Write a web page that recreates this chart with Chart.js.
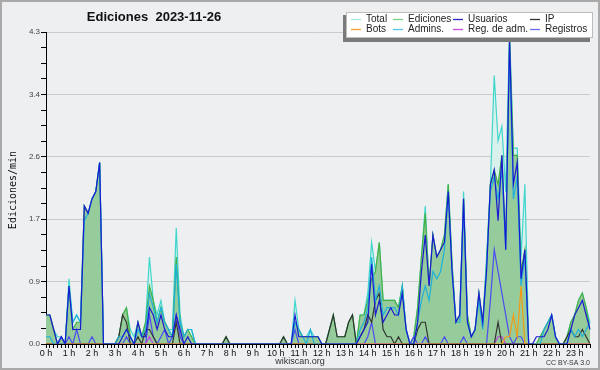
<!DOCTYPE html>
<html>
<head>
<meta charset="utf-8">
<script src="https://cdn.jsdelivr.net/npm/chart.js@4.4.0/dist/chart.umd.min.js"></script>
<style>
  html, body { margin: 0; padding: 0; background: #eeeff1; }
  canvas { display: block; }
</style>
</head>
<body>
<canvas id="chart" width="600" height="370"></canvas>
<script>
// hour labels on the x axis (one every 6 points, 10 min per point)
const hours = ['0 h','1 h','2 h','3 h','4 h','5 h','6 h','7 h','8 h','9 h','10 h','11 h',
  '12 h','13 h','14 h','15 h','16 h','17 h','18 h','19 h','20 h','21 h','22 h','23 h'];
const yTickLabels = ['0.0','0.9','1.7','2.6','3.4','4.3'];
const yMax = 4.3;

// edits per minute, 10 minute steps, 00:00 .. 23:40
const total = [
  0.4,0.4,0.2,0.1,0.1,0,   0.9,0.3,0.4,0.3,1.9,1.8,   2.0,2.1,2.5,0,0,0,
  0,0.1,0.4,0.5,0.2,0.1,   0.3,0.1,0.3,1.2,0.6,0.4,   0.6,0.3,0.2,0.2,1.6,0.4,
  0.1,0.2,0.2,0,0,0,       0,0,0,0,0,0.1,             0,0,0,0,0,0,
  0,0,0,0,0,0,             0,0,0.1,0,0,0.6,           0.2,0.1,0.1,0.2,0.1,0.1,
  0,0,0.2,0.4,0.1,0.1,     0.1,0.3,0.4,0,0.4,0.4,     0.7,1.4,1.0,1.4,0.6,0.6,
  0.6,0.6,0.5,0.8,0.2,0,   0.1,0.5,1.2,1.9,0.8,1.5,   1.2,1.3,1.5,2.2,1.1,0.3,
  0.4,2.1,0.4,0.1,0.2,0.7, 0.3,1.2,2.2,3.7,2.8,3.0,   2.1,4.3,2.7,2.7,1.2,2.2,
  0,0,0,0.1,0.2,0.3,       0.4,0.1,0,0,0.1,0.3,       0.4,0.6,0.7,0.5,0.3
];
const edits = [
  0.4,0.4,0.2,0,0.1,0,     0.8,0.2,0.3,0.3,1.9,1.8,   2.0,2.1,2.5,0,0,0,
  0,0.1,0.4,0.5,0.1,0,     0.3,0.1,0.3,0.8,0.6,0.3,   0.5,0.3,0.2,0.1,1.2,0.3,
  0.1,0.2,0.1,0,0,0,       0,0,0,0,0,0.1,             0,0,0,0,0,0,
  0,0,0,0,0,0,             0,0,0.1,0,0,0.3,           0.2,0.1,0.1,0.1,0.1,0.1,
  0,0,0.2,0.4,0.1,0.1,     0.1,0.3,0.4,0,0.4,0.4,     0.6,0.9,1.0,1.4,0.6,0.6,
  0.6,0.6,0.5,0.8,0.2,0,   0.1,0.5,1.2,1.8,0.8,1.5,   1.2,1.3,1.5,2.2,1.1,0.3,
  0.4,2.0,0.4,0.1,0.2,0.7, 0.3,1.1,2.2,2.4,2.2,2.6,   1.4,4.2,2.6,2.6,1.0,1.3,
  0,0,0,0.1,0.2,0.3,       0.4,0.1,0,0,0.1,0.3,       0.4,0.6,0.7,0.5,0.2
];
const users = [
  0.4,0.4,0.2,0,0.1,0,     0.8,0.2,0.2,0.2,1.9,1.8,   2.0,2.1,2.5,0,0,0,
  0,0,0.1,0.2,0.1,0,       0.3,0.1,0.1,0.5,0.4,0.2,   0.4,0.2,0.1,0.1,0.4,0.2,
  0,0.1,0,0,0,0,           0,0,0,0,0,0,               0,0,0,0,0,0,
  0,0,0,0,0,0,             0,0,0,0,0,0.4,             0.1,0.1,0.1,0.1,0.1,0.1,
  0,0,0,0,0,0,             0,0,0,0,0.1,0.2,           0.3,1.1,0.4,0.6,0.3,0.4,
  0.5,0.4,0.4,0.7,0.2,0,   0,0.3,1.0,1.5,0.8,1.5,     1.2,1.3,1.4,2.1,1.0,0.3,
  0.4,2.0,0.3,0.1,0.2,0.7, 0.3,1.0,2.2,2.4,1.7,2.6,   1.3,4.2,2.2,2.5,0.9,1.3,
  0,0,0.1,0.1,0.1,0.2,     0.4,0.1,0,0,0,0.2,         0.4,0.5,0.6,0.4,0.2
];
const ip = [
  0,0,0,0,0,0,             0,0,0,0,0,0,               0,0,0,0,0,0,
  0,0.1,0.4,0.3,0,0,       0.1,0,0.2,0.2,0.1,0,       0,0,0,0,0.3,0,
  0,0,0,0,0,0,             0,0,0,0,0,0.1,             0,0,0,0,0,0,
  0,0,0,0,0,0,             0,0,0.1,0,0,0,             0,0,0,0,0,0,
  0,0,0.2,0.4,0.1,0.1,     0.1,0.3,0.4,0,0.1,0.2,     0.4,0.3,0.6,0.7,0.2,0.1,
  0.1,0,0.1,0,0,0,         0,0.2,0.3,0.3,0,0,         0,0,0,0,0,0,
  0,0,0,0,0,0,             0,0,0,0,0.3,0,             0,0,0,0,0,0,
  0,0,0,0,0,0,             0,0,0,0,0.1,0.2,           0.1,0.1,0.2,0.1,0
];
const bots = [
  0,0,0,0,0,0, 0,0,0,0,0,0, 0,0,0,0,0,0, 0,0,0,0,0,0, 0,0,0,0,0,0, 0,0,0,0,0,0,
  0,0,0,0,0,0, 0,0,0,0,0,0, 0,0,0,0,0,0, 0,0,0,0,0,0, 0,0,0,0,0,0, 0,0,0,0,0,0,
  0,0,0,0,0,0, 0,0,0,0,0,0, 0,0,0,0,0,0, 0,0,0,0,0,0, 0,0,0,0,0,0, 0,0,0,0,0,0,
  0,0,0,0,0,0, 0,0,0,0,0,0, 0.1,0.1,0.4,0.1,0.8,0,
  0,0,0,0,0,0, 0,0,0,0,0,0, 0,0,0,0,0
];
const admins = [
  0.1,0.1,0,0,0,0,         0.8,0.3,0.4,0.3,1.7,1.8,   2.0,2.1,2.5,0,0,0,
  0,0.1,0.1,0.2,0.1,0,     0.2,0.1,0.2,0.7,0.5,0.3,   0.5,0.3,0.2,0.1,1.1,0.3,
  0.1,0.2,0.2,0,0,0,       0,0,0,0,0,0,               0,0,0,0,0,0,
  0,0,0,0,0,0,             0,0,0,0,0,0.3,             0.2,0.1,0,0.2,0,0,
  0,0,0,0,0,0,             0,0,0,0,0.2,0.3,           0.5,1.2,0.6,0.8,0.4,0.5,
  0.5,0.5,0.4,0.8,0.2,0,   0,0.3,0.6,0.8,0.6,1.0,     0.9,1.0,1.3,2.1,1.0,0.3,
  0.3,1.9,0.3,0.1,0.2,0.6, 0.2,1.1,2.1,2.3,2.0,2.4,   1.3,4.1,2.0,2.3,0.8,1.2,
  0,0,0,0,0.2,0.3,         0.4,0.1,0,0,0,0.2,         0.1,0.2,0.1,0.2,0.3
];
const adminLogs = [
  0,0,0,0,0,0, 0,0,0,0,0,0, 0,0,0,0,0,0, 0,0,0,0,0,0, 0,0,0,0.1,0,0, 0,0,0,0,0,0,
  0,0,0,0,0,0, 0,0,0,0,0,0, 0,0,0,0,0,0, 0,0,0,0,0,0, 0,0,0,0,0,0, 0,0,0,0,0,0,
  0,0,0,0,0,0, 0,0,0,0,0,0, 0,0,0,0,0,0, 0,0,0,0,0,0, 0,0,0,0,0,0, 0,0,0,0,0,0,
  0,0,0,0,0,0, 0,0,0,0,0.1,0.1, 0,0,0,0,0,0,
  0,0,0,0,0,0, 0,0,0,0,0,0, 0,0,0,0,0
];
const logs = [
  0,0,0,0,0.1,0,           0.1,0,0.2,0,0,0,           0.1,0,0,0,0,0,
  0,0,0,0.1,0,0,           0,0,0,0.4,0.1,0,           0.1,0.2,0,0.1,0.4,0.1,
  0,0,0,0,0,0,             0,0,0,0,0,0,               0,0,0,0,0,0,
  0,0,0,0,0,0,             0,0,0,0,0,0.2,             0,0,0,0,0,0,
  0,0,0,0,0,0,             0,0,0,0,0,0,               0.1,0.3,0,0,0,0,
  0,0,0,0,0,0,             0.1,0,0,0.1,0,0,           0,0,0.1,0,0,0,
  0,0.1,0,0,0,0,           0,0,0.6,1.3,1.0,0.7,       0.4,0.1,0,0.1,0.1,0,
  0,0,0,0,0,0,             0,0,0,0,0,0,               0,0,0,0,0
];

const labels = [];
hours.forEach(h => { for (let m = 0; m < 6; m++) labels.push(h.replace(' h', '') + ':' + m + '0'); });
labels.length = total.length;

function line(label, data, color, legendColor, order, fillColor) {
  return {
    label, data,
    borderColor: color,
    backgroundColor: fillColor || color,
    legendColor,
    borderWidth: 1.2,
    pointRadius: 0,
    tension: 0,
    fill: fillColor ? 'origin' : false,
    order
  };
}

const decor = {
  id: 'decor',
  beforeDraw(chart) {
    const ctx = chart.ctx;
    ctx.save();
    ctx.fillStyle = '#eeeff1';
    ctx.fillRect(0, 0, chart.width, chart.height);
    ctx.restore();
  },
  afterDraw(chart) {
    const ctx = chart.ctx;
    ctx.save();
    // frame
    ctx.strokeStyle = '#a9a9a9';
    ctx.lineWidth = 2;
    ctx.strokeRect(1, 1, chart.width - 2, chart.height - 2);

    // title
    ctx.fillStyle = '#111';
    ctx.font = 'bold 13px "Liberation Sans", Arial, sans-serif';
    ctx.textAlign = 'center';
    ctx.textBaseline = 'alphabetic';
    ctx.fillText('Ediciones  2023-11-26', 154, 21);

    // y axis title
    ctx.save();
    ctx.translate(13, 190);
    ctx.rotate(-Math.PI / 2);
    ctx.font = '10px "DejaVu Sans Mono", monospace';
    ctx.fillStyle = '#111';
    ctx.textBaseline = 'middle';
    ctx.fillText('Ediciones/min', 0, 0);
    ctx.restore();

    // footer
    ctx.fillStyle = '#333';
    ctx.font = '9px "Liberation Sans", Arial, sans-serif';
    ctx.textAlign = 'center';
    ctx.fillText('wikiscan.org', 300, 364);
    ctx.font = '7px "Liberation Sans", Arial, sans-serif';
    ctx.textAlign = 'right';
    ctx.fillText('CC BY-SA 3.0', 590, 365);

    // legend
    ctx.fillStyle = '#7a7a7a';
    ctx.fillRect(343, 15, 247, 27);
    ctx.fillStyle = '#ffffff';
    ctx.fillRect(346, 12, 247, 26);
    ctx.strokeStyle = '#bdbdbd';
    ctx.lineWidth = 1;
    ctx.strokeRect(346.5, 12.5, 246, 25);
    const cols = [351, 393, 453, 530];
    const rows = [19, 29];
    ctx.font = '10px "Liberation Sans", Arial, sans-serif';
    ctx.textAlign = 'left';
    ctx.textBaseline = 'middle';
    chart.data.datasets.forEach((ds, k) => {
      const x = cols[k % 4], y = rows[k < 4 ? 0 : 1];
      ctx.strokeStyle = ds.legendColor;
      ctx.lineWidth = 1.3;
      ctx.beginPath();
      ctx.moveTo(x, y + 0.5);
      ctx.lineTo(x + 10, y + 0.5);
      ctx.stroke();
      ctx.fillStyle = '#222';
      ctx.fillText(ds.label, x + 15, y);
    });
    ctx.restore();
  }
};

new Chart(document.getElementById('chart'), {
  type: 'line',
  data: {
    labels,
    datasets: [
      line('Total', total, '#3fd6cc', '#a8e6e0', 8, '#d9f1ec'),
      line('Ediciones', edits, '#44b044', '#7ccf7c', 7, '#96cb9b'),
      line('Usuarios', users, '#1a1ad2', '#2a2ad0', 1),
      line('IP', ip, '#333333', '#333333', 4),
      line('Bots', bots, '#f39c12', '#f5a030', 3),
      line('Admins.', admins, '#1fb0dc', '#4cc8e0', 2),
      line('Reg. de adm.', adminLogs, '#c03ce0', '#c84ce0', 5),
      line('Registros', logs, '#4c4cf0', '#6c6cf0', 6)
    ]
  },
  options: {
    responsive: false,
    animation: false,
    devicePixelRatio: 1,
    layout: { padding: { top: 32, right: 10, left: 0, bottom: 0 } },
    plugins: {
      legend: { display: false },
      title: { display: false },
      tooltip: { enabled: false }
    },
    scales: {
      x: {
        offset: false,
        afterFit: s => { s.height = 26; },
        grid: { drawOnChartArea: false, tickLength: 4, tickColor: '#000' },
        border: { color: '#000', width: 1 },
        ticks: {
          autoSkip: false, maxRotation: 0, padding: 0,
          color: '#111',
          font: { family: '"Liberation Sans", Arial, sans-serif', size: 9 },
          callback: (v, i) => (i % 6 === 0 ? hours[i / 6] : '')
        }
      },
      y: {
        min: 0, max: yMax,
        afterFit: s => { s.width = 46; },
        afterBuildTicks: s => {
          const t = [];
          for (let k = 0; k <= 20; k++) t.push({ value: yMax * k / 20 });
          s.ticks = t;
        },
        grid: {
          color: c => (c.index % 4 === 0 && c.index > 0 ? '#cbcbcb' : 'rgba(0,0,0,0)'),
          tickColor: '#000',
          tickLength: 5
        },
        border: { color: '#000', width: 1 },
        ticks: {
          autoSkip: false, padding: 1,
          color: '#444',
          font: { family: '"Liberation Sans", Arial, sans-serif', size: 8 },
          callback: (v, i) => (i % 4 === 0 ? yTickLabels[i / 4] : '')
        }
      }
    }
  },
  plugins: [decor]
});
</script>
</body>
</html>
